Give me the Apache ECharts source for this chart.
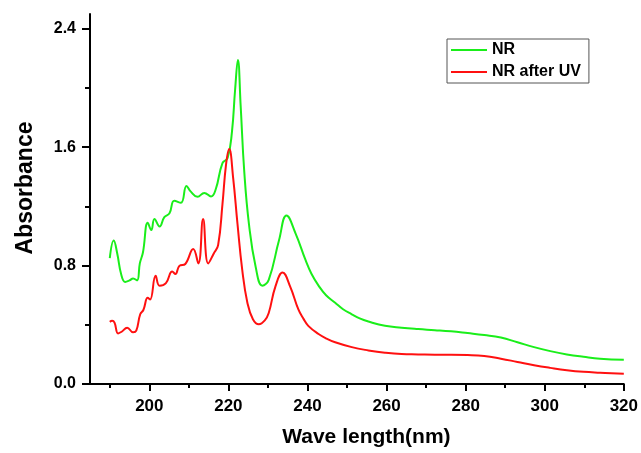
<!DOCTYPE html>
<html>
<head>
<meta charset="utf-8">
<script src="https://cdn.jsdelivr.net/npm/echarts@6/dist/echarts.min.js"></script>
<style>
  html, body { margin: 0; padding: 0; background: #fff; }
  #chart { width: 641px; height: 453px; }
</style>
</head>
<body>
<div id="chart"></div>
<script>
// NR spectrum (wavelength nm, absorbance)
const nrWave = [190.0, 191.0, 191.9, 192.9, 193.9, 195.0, 195.9, 196.9, 197.6, 198.4, 199.6, 200.5, 201.3, 202.6, 203.8, 205.1, 206.3, 208.0, 209.4, 210.5, 212.2, 213.9, 215.6, 216.8, 218.5, 219.8, 220.9, 221.7, 222.4, 223.1, 224.0, 225.2, 226.9, 228.6, 230.2, 232.8, 234.7, 237.0, 239.5, 241.0, 242.8, 244.7, 247.0, 249.0, 251.2, 253.2, 255.4, 259.6, 263.8, 268.0, 272.2, 276.3, 280.5, 284.7, 288.9, 293.1, 297.3, 301.4, 305.6, 309.8, 314.0, 320.0]
const nrAbs = [0.85, 0.97, 0.88, 0.74, 0.69, 0.70, 0.713, 0.70, 0.815, 0.89, 1.09, 1.04, 1.115, 1.064, 1.127, 1.153, 1.238, 1.224, 1.338, 1.30, 1.265, 1.291, 1.267, 1.316, 1.493, 1.527, 1.704, 1.99, 2.19, 1.88, 1.44, 1.08, 0.79, 0.664, 0.704, 0.971, 1.138, 1.016, 0.838, 0.745, 0.665, 0.60, 0.549, 0.505, 0.471, 0.443, 0.422, 0.393, 0.38, 0.371, 0.364, 0.356, 0.344, 0.331, 0.314, 0.282, 0.249, 0.222, 0.20, 0.184, 0.171, 0.164]

// NR after UV spectrum
const uvWave = [190.0, 190.6, 191.2, 192.1, 193.0, 194.4, 195.9, 196.7, 197.7, 198.5, 199.6, 200.2, 201.6, 202.6, 204.2, 205.8, 206.6, 207.6, 209.1, 211.1, 212.4, 213.6, 214.9, 216.3, 217.4, 218.5, 219.4, 220.2, 221.2, 222.3, 223.5, 224.8, 226.2, 227.7, 229.2, 230.2, 231.9, 233.7, 235.6, 237.7, 239.0, 240.2, 242.8, 244.8, 247.0, 251.2, 255.4, 259.6, 263.8, 268.0, 272.2, 276.3, 280.5, 284.7, 288.9, 293.1, 297.3, 301.4, 305.6, 309.8, 314.0, 320.0]
const uvAbs = [0.42, 0.427, 0.415, 0.342, 0.353, 0.38, 0.349, 0.36, 0.471, 0.50, 0.582, 0.571, 0.731, 0.664, 0.682, 0.76, 0.744, 0.798, 0.811, 0.913, 0.815, 1.115, 0.815, 0.882, 0.938, 1.215, 1.482, 1.587, 1.393, 1.082, 0.771, 0.549, 0.438, 0.404, 0.43, 0.48, 0.66, 0.753, 0.66, 0.504, 0.44, 0.393, 0.338, 0.307, 0.282, 0.249, 0.227, 0.211, 0.202, 0.200, 0.198, 0.198, 0.196, 0.189, 0.171, 0.149, 0.127, 0.109, 0.093, 0.082, 0.076, 0.069]

const xMajor = [200, 220, 240, 260, 280, 300, 320]
const xMinor = [190, 210, 230, 250, 270, 290, 310]
const yMajor = [0, 0.8, 1.6, 2.4]
const yMinor = [0.4, 1.2, 2.0]

const pairs = (xs, ys) => xs.map((x, i) => [x, ys[i]])

const chart = echarts.init(document.getElementById('chart'))

const font = 'Arial, "Liberation Sans", sans-serif'
const axisLine = { show: true, lineStyle: { color: '#000', width: 2 } }

const option = {
  animation: false,
  grid: { left: 90, right: 14, top: 14, bottom: 64 },
  legend: {
    orient: 'vertical',
    left: 447,
    top: 39,
    padding: [3, 8, 3, 4],
    itemGap: 6,
    itemWidth: 36,
    itemHeight: 2,
    icon: 'rect',
    borderColor: '#555',
    borderWidth: 1,
    textStyle: { fontFamily: font, fontWeight: 'bold', fontSize: 16, lineHeight: 15, color: '#000' },
    data: ['NR', 'NR after UV']
  },
  xAxis: [
    {
      type: 'value',
      min: 185,
      max: 320,
      name: 'Wave length(nm)',
      nameLocation: 'middle',
      nameGap: 43,
      nameTextStyle: { fontFamily: font, fontWeight: 'bold', fontSize: 21, color: '#000', padding: [0, 0, 0, 19] },
      axisLine: axisLine,
      axisTick: { show: true, customValues: xMajor, length: 7, lineStyle: { color: '#000', width: 2 } },
      axisLabel: { customValues: xMajor, margin: 14, fontFamily: font, fontWeight: 'bold', fontSize: 17, color: '#000' },
      splitLine: { show: false }
    },
    {
      type: 'value',
      min: 185,
      max: 320,
      position: 'bottom',
      axisLine: { show: false },
      axisTick: { show: true, customValues: xMinor, length: 4, lineStyle: { color: '#000', width: 2 } },
      axisLabel: { show: false },
      splitLine: { show: false }
    }
  ],
  yAxis: [
    {
      type: 'value',
      min: 0,
      max: 2.5,
      name: 'Absorbance',
      nameLocation: 'middle',
      nameGap: 53,
      nameRotate: 90,
      nameTextStyle: { fontFamily: font, fontWeight: 'bold', fontSize: 23, color: '#000', padding: [0, 0, 0, 22] },
      axisLine: axisLine,
      axisTick: { show: true, customValues: yMajor, length: 8, lineStyle: { color: '#000', width: 2 } },
      axisLabel: {
        customValues: yMajor,
        margin: 14,
        fontFamily: font,
        fontWeight: 'bold',
        fontSize: 16,
        color: '#000',
        formatter: v => v.toFixed(1)
      },
      splitLine: { show: false }
    },
    {
      type: 'value',
      min: 0,
      max: 2.5,
      position: 'left',
      axisLine: { show: false },
      axisTick: { show: true, customValues: yMinor, length: 5, lineStyle: { color: '#000', width: 2 } },
      axisLabel: { show: false },
      splitLine: { show: false }
    }
  ],
  series: [
    {
      name: 'NR',
      type: 'line',
      data: pairs(nrWave, nrAbs),
      showSymbol: false,
      smooth: 0.45,
      lineStyle: { color: '#1aee1a', width: 2 },
      itemStyle: { color: '#1aee1a' }
    },
    {
      name: 'NR after UV',
      type: 'line',
      data: pairs(uvWave, uvAbs),
      showSymbol: false,
      smooth: 0.45,
      lineStyle: { color: '#ff1010', width: 2 },
      itemStyle: { color: '#ff1010' }
    }
  ]
}

chart.setOption(option)
</script>
</body>
</html>
